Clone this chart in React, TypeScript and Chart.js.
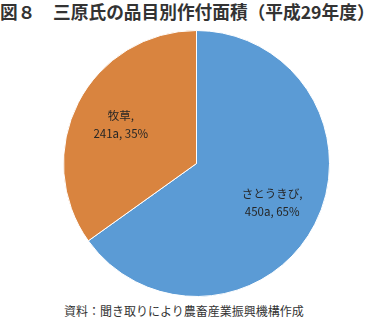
import React, { useEffect, useRef } from "react";
import { Chart, registerables } from "chart.js";

Chart.register(...registerables);

const categories = ["さとうきび", "牧草"];
const areas = [450, 241];
const percents = [65, 35];
const colors = ["#5B9BD5", "#D9843F"];

const titleText = "図８　三原氏の品目別作付面積（平成29年度）";
const sourceText = "資料：聞き取りにより農畜産業振興機構作成";

const labelPlugin = {
  id: "sliceLabels",
  afterDatasetsDraw(chart: any) {
    const ctx = chart.ctx;
    const meta = chart.getDatasetMeta(0);
    ctx.save();
    ctx.font = '11.5px "Noto Sans CJK JP", "Noto Sans", sans-serif';
    ctx.fillStyle = "#262626";
    ctx.textAlign = "center";
    ctx.textBaseline = "middle";
    meta.data.forEach((arc: any, i: number) => {
      const p = arc.getProps(["x", "y", "startAngle", "endAngle", "outerRadius"], true);
      const mid = (p.startAngle + p.endAngle) / 2;
      const r = p.outerRadius * 0.64;
      const cx = p.x + Math.cos(mid) * r;
      const cy = p.y + Math.sin(mid) * r;
      ctx.fillText(categories[i] + ",", cx, cy - 9);
      ctx.fillText(areas[i] + "a, " + percents[i] + "%", cx, cy + 9);
    });
    ctx.restore();
  },
};

export default function App() {
  const ref = useRef<HTMLCanvasElement | null>(null);
  useEffect(() => {
    if (!ref.current) return;
    const chart = new Chart(ref.current, {
      type: "pie",
      data: {
        labels: categories,
        datasets: [
          {
            data: areas,
            backgroundColor: colors,
            borderColor: "#ffffff",
            borderWidth: 1,
          },
        ],
      },
      options: {
        responsive: false,
        animation: false,
        layout: { padding: 0 },
        plugins: {
          legend: { display: false },
          tooltip: { enabled: false },
        },
      },
      plugins: [labelPlugin],
    });
    return () => chart.destroy();
  }, []);

  return (
    <div
      style={{
        position: "fixed",
        left: 0,
        top: 0,
        width: 370,
        height: 321,
        background: "#ffffff",
        fontFamily: '"Noto Sans CJK JP", sans-serif',
        overflow: "hidden",
      }}
    >
      <div
        style={{
          position: "absolute",
          left: 0,
          top: 0,
          fontSize: 17.7,
          fontWeight: 700,
          color: "#333333",
          lineHeight: "22px",
          whiteSpace: "nowrap",
        }}
      >
        {titleText}
      </div>
      <canvas
        ref={ref}
        width={267}
        height={267}
        style={{ position: "absolute", left: 63, top: 30, width: 267, height: 267 }}
      />
      <div
        style={{
          position: "absolute",
          left: 0,
          width: 368,
          top: 303,
          textAlign: "center",
          fontSize: 12,
          color: "#333333",
          lineHeight: "16px",
          whiteSpace: "nowrap",
        }}
      >
        {sourceText}
      </div>
    </div>
  );
}
